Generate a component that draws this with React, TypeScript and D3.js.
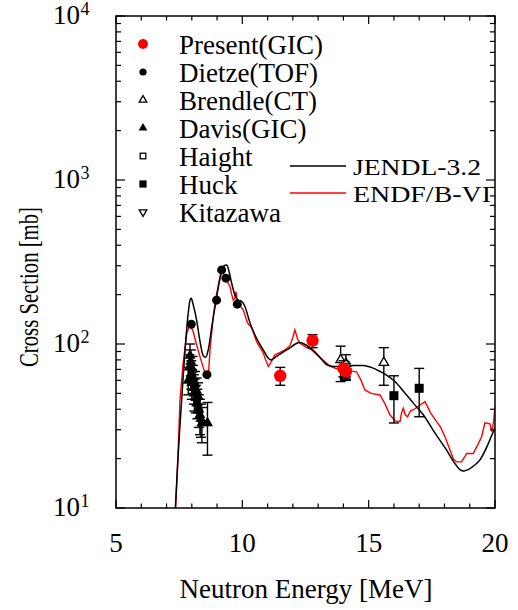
import React from "react";
import * as d3 from "d3";

// axis ticks
const energyLabels = [5, 10, 15, 20];
const decadeExponents = [1, 2, 3, 4];

// evaluated curves [E (MeV), sigma (mb)]
const jendl: [number, number][] = [
  [7.35, 10], [7.45, 20], [7.55, 35], [7.65, 60], [7.75, 100], [7.85, 150], [7.93, 185],
  [7.98, 190], [8.05, 175], [8.19, 140], [8.32, 105], [8.45, 85], [8.55, 83], [8.65, 92],
  [8.8, 130], [9.0, 200], [9.15, 265], [9.28, 300], [9.38, 303], [9.48, 275], [9.58, 234],
  [9.7, 200], [9.84, 185], [9.95, 183], [10.1, 170], [10.3, 135], [10.57, 108], [10.83, 92],
  [11.0, 83], [11.12, 80], [11.3, 83], [11.6, 89], [11.9, 95], [12.1, 100], [12.28, 102],
  [12.5, 99], [12.8, 92], [13.1, 82], [13.33, 75], [13.6, 73], [14.0, 73], [14.4, 74],
  [14.8, 74], [15.1, 72], [15.45, 68], [15.75, 64], [16.04, 59], [16.4, 51], [16.8, 43],
  [17.16, 37], [17.6, 29], [18.08, 22.6], [18.4, 18.8], [18.6, 17.2], [18.77, 16.8],
  [18.95, 17.2], [19.2, 18.3], [19.4, 19.6], [19.7, 24], [19.93, 29.2], [20.0, 31],
];

const endf: [number, number][] = [
  [7.36, 10], [7.45, 20], [7.53, 45], [7.65, 75], [7.8, 116], [7.9, 128], [7.95, 129],
  [8.05, 120], [8.18, 100], [8.32, 84], [8.45, 72], [8.55, 65], [8.65, 62], [8.72, 92],
  [8.85, 147], [8.95, 190], [9.1, 250], [9.18, 280], [9.28, 265], [9.4, 240], [9.51, 224],
  [9.58, 200], [9.64, 185], [9.71, 190], [9.75, 209], [9.8, 180], [9.9, 172], [10.04, 161],
  [10.2, 135], [10.37, 125], [10.57, 103], [10.83, 88], [10.95, 78], [11.03, 73], [11.15, 78],
  [11.29, 86], [11.5, 89], [11.69, 92], [11.89, 98], [12.0, 110], [12.08, 122], [12.18, 108],
  [12.28, 101], [12.5, 96], [12.74, 92], [13.1, 82], [13.48, 73], [13.8, 70], [14.14, 69],
  [14.52, 67.7], [14.7, 60], [14.85, 52.5], [15.1, 50], [15.45, 48.9], [15.65, 43],
  [15.84, 37], [16.05, 34], [16.24, 33.6], [16.3, 38], [16.37, 40.6], [16.45, 37],
  [16.54, 36], [16.65, 39], [16.8, 40], [17.0, 42], [17.23, 44.5], [17.45, 38], [17.69, 33.6],
  [17.85, 31], [18.02, 27.2], [18.2, 23], [18.35, 20], [18.48, 19.1], [18.67, 19.1],
  [18.8, 20.5], [18.88, 21.5], [19.14, 21.5], [19.3, 24], [19.47, 27.2], [19.6, 33.1],
  [19.8, 32.6], [19.87, 29.2], [19.95, 34], [20.0, 41.5],
];

// measured points [E, sigma, low, high]
const present: number[][] = [
  [11.5, 64, 56, 72], [12.78, 105, 95, 114], [14.0, 71, 63, 79], [14.1, 68, 61, 76],
];
const dietze: number[][] = [
  [7.98, 132], [8.6, 65], [8.98, 185], [9.18, 283], [9.35, 252], [9.8, 175],
];
const brendle: number[][] = [
  [13.89, 80, 59, 97], [14.1, 76, 63, 86], [15.6, 77, 56, 95],
];
const davis: number[][] = [
  [7.86, 60, 49, 72], [7.9, 72, 58, 86], [7.93, 85, 70, 100], [7.96, 78, 64, 92],
  [7.98, 66, 53, 79], [8.0, 58, 46, 70], [8.03, 70, 56, 84], [8.05, 62, 50, 74],
  [8.08, 54, 43, 65], [8.1, 50, 39, 61], [8.13, 57, 46, 68], [8.16, 47, 38, 56],
  [8.19, 52, 42, 62], [8.22, 44, 35, 53], [8.25, 48, 38, 58], [8.28, 40, 31, 49],
  [8.32, 37, 28, 46], [8.36, 35, 27, 43], [8.4, 33, 25, 41], [8.62, 33, 21, 44],
];
const haight: number[][] = [[14.05, 70, 62, 78]];
const huck: number[][] = [[16.0, 48.4, 33, 64], [17.0, 53.7, 36, 71]];
const kitazawa: number[][] = [[14.1, 68, 60, 76]];

const legendNames = ["Present(GIC)", "Dietze(TOF)", "Brendle(CT)", "Davis(GIC)", "Haight", "Huck", "Kitazawa"];
const curveNames = ["JENDL-3.2", "ENDF/B-VI"];
const curveLabelWidths = [128, 138];

const font = "Liberation Serif, Tinos, Times New Roman, Times, DejaVu Serif, serif";

const Marker = ({ kind, x, y, legend }: { kind: string; x: number; y: number; legend?: boolean }) => {
  const k = legend ? 0.8 : 1;
  if (kind === "present") return <circle cx={x} cy={y} r={6.2 * k} fill="#ff0000" />;
  if (kind === "dietze") return <circle cx={x} cy={y} r={4.5 * k} fill="#000" />;
  if (kind === "huck") return <rect x={x - 4.5 * k} y={y - 4.5 * k} width={9 * k} height={9 * k} fill="#000" />;
  if (kind === "haight")
    return <rect x={x - 3.5 * k} y={y - 3.5 * k} width={7 * k} height={7 * k} fill="#fff" stroke="#000" strokeWidth={1.3} />;
  const s = (kind === "davis" ? 11 : 9.5) * k;
  const h = s * 0.866;
  if (kind === "kitazawa") {
    const pts = `${x - s / 2},${y - h / 3} ${x + s / 2},${y - h / 3} ${x},${y + (2 * h) / 3}`;
    return <polygon points={pts} fill="#fff" stroke="#000" strokeWidth={1.3} />;
  }
  const pts = `${x - s / 2},${y + h / 3} ${x + s / 2},${y + h / 3} ${x},${y - (2 * h) / 3}`;
  if (kind === "brendle") return <polygon points={pts} fill="#fff" stroke="#000" strokeWidth={1.3} />;
  return <polygon points={pts} fill="#000" />;
};

const App = () => {
  const left = 116, right = 495, top = 16, bottom = 508;
  const x = d3.scaleLinear().domain([5, 20]).range([left, right]);
  const y = d3.scaleLog().domain([10, 10000]).range([bottom, top]);

  const line = d3.line<[number, number]>().x((d) => x(d[0])).y((d) => y(d[1]));
  const smooth = d3.line<[number, number]>().x((d) => x(d[0])).y((d) => y(d[1])).curve(d3.curveMonotoneX);

  const xMinor = d3.range(5, 21, 1);
  const yMinor: number[] = [];
  [10, 100, 1000].forEach((d) => d3.range(1, 10).forEach((k) => yMinor.push(d * k)));
  yMinor.push(10000);

  const groups: [string, number[][]][] = [
    ["huck", huck], ["haight", haight], ["kitazawa", kitazawa], ["brendle", brendle],
    ["davis", davis], ["dietze", dietze], ["present", present],
  ];
  const legendKinds = ["present", "dietze", "brendle", "davis", "haight", "huck", "kitazawa"];

  return (
    <svg width={518} height={610} style={{ position: "absolute", left: 0, top: 0, background: "#fff", fontFamily: font }}>
      <defs>
        <clipPath id="plot">
          <rect x={left} y={top} width={right - left} height={bottom - top} />
        </clipPath>
      </defs>

      {/* curves */}
      <g clipPath="url(#plot)" fill="none">
        <path d={line(endf) ?? ""} stroke="#ff0000" strokeWidth={1.4} />
        <path d={smooth(jendl) ?? ""} stroke="#000" strokeWidth={1.5} />
      </g>

      {/* error bars and points */}
      {groups.map(([kind, pts]) => (
        <g key={kind}>
          {pts.map((p, i) =>
            p.length > 2 ? (
              <g key={i} stroke="#000" strokeWidth={1.4}>
                <line x1={x(p[0])} x2={x(p[0])} y1={y(p[2])} y2={y(p[3])} />
                <line x1={x(p[0]) - 5} x2={x(p[0]) + 5} y1={y(p[2])} y2={y(p[2])} />
                <line x1={x(p[0]) - 5} x2={x(p[0]) + 5} y1={y(p[3])} y2={y(p[3])} />
              </g>
            ) : null
          )}
          {pts.map((p, i) => (
            <Marker key={"m" + i} kind={kind} x={x(p[0])} y={y(p[1])} />
          ))}
        </g>
      ))}

      {/* frame and ticks */}
      <rect x={left} y={top} width={right - left} height={bottom - top} fill="none" stroke="#000" strokeWidth={1.5} />
      <g stroke="#000" strokeWidth={1.2}>
        {xMinor.map((t) => {
          const len = t % 5 === 0 ? 8 : 4.5;
          return (
            <g key={t}>
              <line x1={x(t)} x2={x(t)} y1={bottom} y2={bottom - len} />
              <line x1={x(t)} x2={x(t)} y1={top} y2={top + len} />
            </g>
          );
        })}
        {yMinor.map((t) => {
          const len = Math.abs(Math.log10(t) % 1) < 1e-6 ? 9 : 5;
          return (
            <g key={t}>
              <line x1={left} x2={left + len} y1={y(t)} y2={y(t)} />
              <line x1={right} x2={right - len} y1={y(t)} y2={y(t)} />
            </g>
          );
        })}
      </g>

      {/* tick labels */}
      <g style={{ fontFamily: font }} fill="#000">
        {energyLabels.map((t) => (
          <text key={t} x={x(t)} y={552} fontSize={27} textAnchor="middle">
            {t}
          </text>
        ))}
        {decadeExponents.map((e) => (
          <g key={e}>
            <text x={80} y={y(Math.pow(10, e)) + 8} fontSize={27} textAnchor="end">
              10
            </text>
            <text x={80.5} y={y(Math.pow(10, e)) - 1} fontSize={18}>
              {e}
            </text>
          </g>
        ))}
        <text x={306} y={598} fontSize={27} textAnchor="middle">
          Neutron Energy [MeV]
        </text>
        <text
          transform="translate(38,287) rotate(-90)"
          fontSize={28}
          textAnchor="middle"
          textLength={160}
          lengthAdjust="spacingAndGlyphs"
        >
          Cross Section [mb]
        </text>
      </g>

      {/* legend */}
      <g style={{ fontFamily: font }} fontSize={27} fill="#000">
        {legendNames.map((name, i) => (
          <g key={name}>
            <Marker kind={legendKinds[i]} x={143} y={44 + i * 28} legend />
            <text x={179} y={54 + i * 28}>
              {name}
            </text>
          </g>
        ))}
        {curveNames.map((name, i) => (
          <g key={name}>
            <line x1={290} x2={346} y1={166 + i * 27} y2={166 + i * 27} stroke={i === 0 ? "#000" : "#ff0000"} strokeWidth={1.4} />
            <text
              x={353}
              y={175 + i * 27}
              fontSize={23}
              textLength={curveLabelWidths[i]}
              lengthAdjust="spacingAndGlyphs"
            >
              {name}
            </text>
          </g>
        ))}
      </g>
    </svg>
  );
};

export default App;
